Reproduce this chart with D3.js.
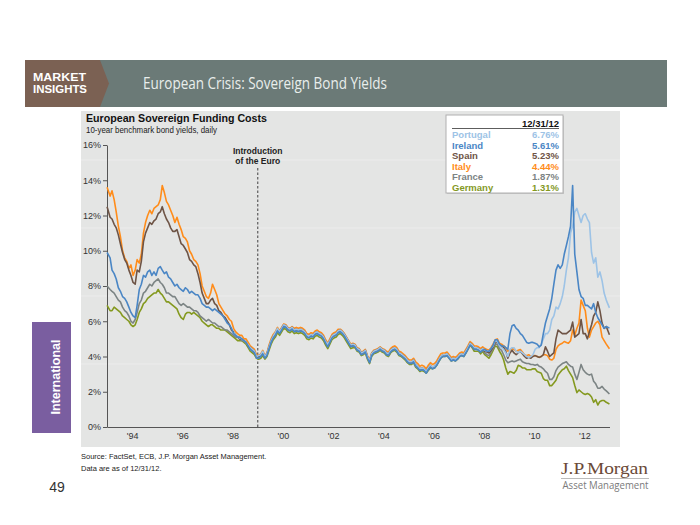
<!DOCTYPE html>
<html><head><meta charset="utf-8">
<script src="https://cdn.jsdelivr.net/npm/d3@7"></script>
<style>
body{margin:0;background:#fff}
svg{display:block;font-family:"Liberation Sans",Arial,sans-serif}
</style>
</head><body><svg id="c" width="700" height="525"></svg>
<script>
// ---------------- DATA ----------------
const countries = ["Portugal","Ireland","Spain","Italy","France","Germany"];
const lastValues = ["6.76%","5.61%","5.23%","4.44%","1.87%","1.31%"];
const lastDateLabel = "12/31/12";
const yTicks = [0,2,4,6,8,10,12,14,16];
const xTickYears = [1994,1996,1998,2000,2002,2004,2006,2008,2010,2012];
const xTickLabels = ["'94","'96","'98","'00","'02","'04","'06","'08","'10","'12"];
const euroDate = "1999-01-01";
const startMonth = "1993-01";   // monthly observations, Jan 1993 .. Dec 2012

const portugal = [
 null,null,null,null,null,null,null,null,null,null,null,null,
 null,null,null,null,null,null,null,null,null,null,null,null,
 null,null,null,null,null,null,null,null,null,null,null,null,
 null,null,null,null,null,null,null,null,null,null,null,null,
 null,null,null,null,null,null,null,null,null,null,null,null,
 5.4,5.2,5.1,5.05,5.0,4.9,4.8,4.65,4.5,4.4,4.3,4.0,
 4.05,4.1,4.3,4.0,4.15,4.55,4.9,5.15,5.35,5.6,5.4,5.6,
 5.8,5.75,5.6,5.55,5.65,5.5,5.55,5.5,5.55,5.5,5.4,5.2,
 5.15,5.25,5.2,5.35,5.4,5.3,5.25,5.1,4.85,4.7,4.9,5.15,
 5.25,5.3,5.45,5.5,5.4,5.25,5.05,4.85,4.65,4.7,4.65,4.45,
 4.4,4.2,4.25,4.35,4.0,3.75,4.15,4.3,4.35,4.4,4.5,4.4,
 4.35,4.2,4.15,4.35,4.45,4.5,4.4,4.2,4.15,4.05,3.95,3.8,
 3.7,3.7,3.8,3.55,3.45,3.3,3.35,3.3,3.15,3.35,3.5,3.4,
 3.45,3.6,3.8,4.0,4.1,4.1,4.15,4.0,3.85,3.9,3.85,3.95,
 4.1,4.15,4.1,4.3,4.5,4.75,4.65,4.5,4.5,4.45,4.35,4.45,
 4.35,4.3,4.3,4.45,4.6,4.9,4.85,4.6,4.5,4.4,4.2,4.0,
 4.4,4.5,4.5,4.3,4.2,4.3,4.2,4.1,4.0,3.95,4.0,4.1,
 4.4,4.5,4.5,4.7,5.0,5.3,5.3,5.5,6.1,6.3,6.8,6.7,
 7.0,7.4,8.0,8.9,9.6,11.0,11.4,12.2,12.4,12.0,11.6,12.0,
 12.1,11.8,11.6,9.9,9.3,9.6,8.5,8.8,8.3,7.6,7.2,6.76
];
const ireland = [
 9.9,9.6,8.9,8.7,8.4,7.9,7.7,7.4,7.3,7.1,6.8,6.5,
 6.3,6.2,6.9,7.8,8.1,8.6,8.5,8.8,8.9,8.6,8.8,8.6,
 9.0,9.1,8.9,8.7,8.8,8.5,8.4,8.2,8.0,8.1,7.9,7.8,
 7.7,7.9,7.8,7.6,7.7,7.6,7.5,7.5,7.3,7.0,6.9,6.8,
 6.8,6.7,6.6,6.7,6.6,6.5,6.4,6.3,6.1,5.9,5.8,5.6,
 5.3,5.2,5.1,5.1,5.0,4.9,4.8,4.6,4.4,4.3,4.2,3.9,
 3.9,4.0,4.15,3.9,4.05,4.45,4.8,5.05,5.2,5.45,5.3,5.5,
 5.7,5.65,5.5,5.45,5.55,5.4,5.45,5.4,5.45,5.4,5.3,5.1,
 5.05,5.15,5.1,5.25,5.3,5.2,5.15,5.0,4.75,4.55,4.8,5.05,
 5.15,5.2,5.35,5.4,5.3,5.15,4.95,4.75,4.55,4.6,4.55,4.35,
 4.3,4.1,4.15,4.25,3.9,3.65,4.05,4.2,4.25,4.3,4.4,4.3,
 4.25,4.1,4.05,4.25,4.35,4.4,4.3,4.1,4.05,3.95,3.85,3.7,
 3.6,3.6,3.7,3.45,3.35,3.2,3.25,3.2,3.05,3.25,3.4,3.3,
 3.35,3.5,3.7,3.9,4.0,4.0,4.05,3.9,3.75,3.8,3.75,3.85,
 4.0,4.05,4.0,4.2,4.4,4.65,4.55,4.4,4.4,4.35,4.25,4.35,
 4.4,4.3,4.3,4.45,4.65,4.95,4.95,4.7,4.6,4.6,4.5,4.4,
 5.3,5.75,5.8,5.6,5.5,5.3,5.2,5.0,4.8,4.75,4.8,4.8,
 4.75,4.7,4.55,4.65,5.3,5.9,6.3,6.7,7.3,8.1,8.9,9.2,
 9.0,9.2,9.8,10.3,10.8,11.4,13.7,9.8,8.8,7.8,7.4,7.3,
 6.9,6.9,6.8,6.7,7.0,6.5,6.2,6.0,5.8,5.6,5.7,5.61
];
const spain = [
 12.5,11.9,11.8,11.5,11.3,10.9,10.4,9.9,9.5,9.3,8.9,8.6,
 8.2,8.1,8.9,8.8,9.4,10.5,11.0,11.3,11.6,11.5,11.7,11.8,
 12.1,12.2,12.5,12.1,11.8,11.6,11.3,11.1,11.1,11.2,10.8,10.4,
 10.3,10.1,9.9,9.5,9.4,9.2,9.1,8.7,8.2,7.6,7.3,7.0,
 7.0,7.2,7.3,7.0,6.9,6.6,6.5,6.3,6.2,6.0,5.8,5.5,
 5.4,5.2,5.1,5.0,5.0,4.9,4.8,4.6,4.5,4.4,4.3,4.0,
 4.0,4.1,4.25,4.0,4.15,4.55,4.9,5.15,5.3,5.55,5.4,5.6,
 5.8,5.75,5.6,5.55,5.65,5.5,5.55,5.5,5.55,5.5,5.4,5.2,
 5.15,5.25,5.2,5.35,5.4,5.3,5.25,5.1,4.85,4.65,4.9,5.15,
 5.25,5.3,5.45,5.5,5.4,5.25,5.05,4.85,4.6,4.7,4.65,4.45,
 4.4,4.2,4.25,4.35,4.0,3.75,4.15,4.3,4.35,4.4,4.5,4.4,
 4.35,4.2,4.15,4.35,4.45,4.5,4.4,4.2,4.15,4.05,3.95,3.8,
 3.7,3.7,3.8,3.55,3.45,3.3,3.35,3.3,3.15,3.35,3.5,3.4,
 3.45,3.6,3.8,4.0,4.1,4.1,4.15,4.0,3.85,3.9,3.85,3.95,
 4.1,4.15,4.1,4.3,4.5,4.75,4.65,4.5,4.5,4.45,4.35,4.45,
 4.3,4.25,4.2,4.35,4.55,4.8,4.85,4.6,4.6,4.5,4.3,3.9,
 4.2,4.35,4.2,4.1,4.2,4.3,4.15,4.0,3.9,3.95,3.9,4.0,
 4.05,4.0,3.95,4.0,4.1,4.55,4.3,4.0,4.1,4.2,5.0,5.5,
 5.4,5.3,5.3,5.3,5.4,5.5,5.95,5.1,5.2,5.3,6.1,5.3,
 5.3,5.0,5.4,5.8,6.3,6.5,7.1,6.6,5.9,5.6,5.7,5.23
];
const italy = [
 13.6,13.1,13.4,12.9,12.2,11.4,10.8,10.0,9.6,9.4,9.0,9.2,
 8.6,8.9,9.5,9.3,9.8,11.0,11.6,12.0,12.3,12.1,12.4,12.5,
 12.6,12.9,13.7,13.3,12.8,12.6,12.3,12.0,11.6,11.9,11.5,11.2,
 10.8,10.7,10.5,10.0,9.8,9.5,9.4,9.2,8.7,8.0,7.7,7.4,
 7.3,7.6,8.1,7.8,7.5,7.0,6.8,6.6,6.4,6.3,6.1,6.0,
 5.6,5.4,5.3,5.2,5.2,5.0,5.0,4.8,4.6,4.5,4.4,4.1,
 4.05,4.15,4.35,4.05,4.2,4.65,5.0,5.25,5.4,5.65,5.45,5.65,
 5.85,5.8,5.65,5.6,5.7,5.6,5.65,5.6,5.65,5.6,5.5,5.3,
 5.25,5.35,5.3,5.45,5.5,5.4,5.35,5.2,4.95,4.75,5.0,5.25,
 5.35,5.4,5.55,5.55,5.45,5.3,5.1,4.9,4.7,4.75,4.7,4.5,
 4.45,4.25,4.3,4.4,4.05,3.8,4.2,4.35,4.4,4.45,4.55,4.45,
 4.4,4.3,4.25,4.45,4.55,4.6,4.5,4.3,4.25,4.15,4.05,3.9,
 3.8,3.8,3.9,3.7,3.6,3.45,3.5,3.45,3.3,3.5,3.65,3.55,
 3.6,3.75,3.95,4.15,4.2,4.2,4.25,4.1,3.95,4.0,3.95,4.05,
 4.2,4.25,4.2,4.4,4.6,4.85,4.75,4.6,4.6,4.55,4.45,4.55,
 4.45,4.4,4.35,4.5,4.7,4.95,5.0,4.75,4.7,4.6,4.5,4.3,
 4.35,4.45,4.4,4.3,4.35,4.4,4.25,4.1,4.05,4.1,4.0,4.05,
 4.05,4.0,3.95,4.0,4.1,4.1,4.05,3.85,3.8,3.9,4.4,4.6,
 4.7,4.75,4.85,4.8,4.75,4.9,5.5,5.2,5.6,5.9,7.2,6.9,
 6.6,5.6,5.1,5.5,5.7,5.9,6.0,5.8,5.1,4.9,4.7,4.44
];
const france = [
 8.0,7.8,7.7,7.6,7.4,7.2,7.1,6.8,6.6,6.5,6.3,6.0,
 5.9,6.1,6.5,7.0,7.2,7.6,7.7,7.9,8.1,8.0,8.2,8.3,
 8.4,8.2,8.1,7.9,7.6,7.6,7.5,7.4,7.4,7.2,7.0,6.9,
 7.0,6.9,6.8,6.8,6.7,6.6,6.6,6.5,6.3,6.2,6.1,6.0,
 6.1,6.0,5.9,5.9,5.8,5.7,5.7,5.6,5.5,5.5,5.4,5.3,
 5.2,5.1,5.1,5.0,4.9,4.9,4.8,4.6,4.4,4.4,4.2,4.0,
 3.95,4.05,4.2,3.95,4.1,4.5,4.85,5.1,5.25,5.5,5.35,5.55,
 5.75,5.7,5.55,5.5,5.6,5.45,5.5,5.45,5.5,5.45,5.35,5.15,
 5.1,5.2,5.15,5.3,5.35,5.25,5.2,5.05,4.8,4.6,4.85,5.1,
 5.2,5.25,5.4,5.45,5.35,5.2,5.0,4.8,4.6,4.65,4.6,4.4,
 4.35,4.15,4.2,4.3,3.95,3.7,4.1,4.25,4.3,4.35,4.45,4.35,
 4.3,4.15,4.1,4.3,4.4,4.45,4.35,4.15,4.1,4.0,3.9,3.75,
 3.65,3.65,3.75,3.5,3.4,3.25,3.3,3.25,3.1,3.3,3.45,3.35,
 3.4,3.55,3.75,3.95,4.05,4.05,4.1,3.95,3.8,3.85,3.8,3.9,
 4.05,4.1,4.05,4.25,4.45,4.7,4.6,4.45,4.45,4.4,4.3,4.4,
 4.2,4.1,4.05,4.25,4.45,4.7,4.7,4.45,4.35,4.1,3.8,3.65,
 3.7,3.75,3.7,3.75,3.8,3.85,3.7,3.65,3.6,3.6,3.55,3.55,
 3.5,3.55,3.45,3.4,3.3,3.15,3.05,2.7,2.7,2.85,3.2,3.4,
 3.5,3.6,3.65,3.7,3.55,3.45,3.4,3.0,2.7,3.1,3.55,3.25,
 3.1,3.0,2.95,3.0,2.6,2.45,2.2,2.2,2.3,2.15,2.05,1.87
];
const germany = [
 6.9,6.6,6.6,6.8,6.7,6.6,6.5,6.3,6.2,6.1,6.0,5.8,
 5.7,5.8,6.1,6.5,6.7,7.0,7.1,7.3,7.4,7.5,7.6,7.6,
 7.8,7.6,7.5,7.3,7.1,7.1,7.0,6.9,6.8,6.7,6.4,6.2,
 6.1,6.4,6.5,6.5,6.4,6.5,6.4,6.3,6.2,6.0,5.9,5.8,
 5.7,5.8,5.8,5.7,5.6,5.6,5.5,5.5,5.5,5.4,5.3,5.2,
 5.1,5.0,4.9,4.9,4.9,4.8,4.7,4.5,4.3,4.2,4.1,3.9,
 3.85,3.9,4.05,3.85,4.0,4.35,4.7,4.95,5.1,5.35,5.2,5.4,
 5.6,5.55,5.4,5.35,5.45,5.3,5.35,5.3,5.35,5.3,5.2,5.0,
 4.95,5.05,5.0,5.15,5.2,5.1,5.05,4.9,4.65,4.45,4.7,4.95,
 5.05,5.1,5.25,5.3,5.2,5.05,4.85,4.65,4.45,4.5,4.5,4.3,
 4.25,4.05,4.1,4.2,3.85,3.6,4.0,4.15,4.2,4.25,4.35,4.25,
 4.2,4.05,4.0,4.2,4.3,4.35,4.25,4.05,4.0,3.9,3.8,3.65,
 3.55,3.55,3.65,3.4,3.3,3.15,3.2,3.15,3.05,3.2,3.35,3.3,
 3.35,3.5,3.7,3.9,4.0,4.0,4.05,3.9,3.75,3.8,3.75,3.85,
 4.0,4.05,4.0,4.2,4.4,4.65,4.5,4.3,4.3,4.3,4.15,4.3,
 4.1,4.0,3.9,4.1,4.35,4.6,4.55,4.3,4.1,3.8,3.35,3.0,
 3.15,3.1,3.05,3.2,3.5,3.45,3.35,3.35,3.25,3.25,3.25,3.3,
 3.3,3.15,3.1,3.05,2.75,2.65,2.65,2.35,2.35,2.5,2.65,2.95,
 3.1,3.25,3.3,3.45,3.2,3.0,2.8,2.35,1.95,2.1,2.0,1.9,
 1.85,1.9,1.85,1.7,1.4,1.55,1.25,1.45,1.5,1.5,1.4,1.31
];

const seriesValues = [portugal, ireland, spain, italy, france, germany];
const seriesColors = ["#9dc3e6","#4a86c5","#6e5446","#ff8c1a","#7c8484","#84991f"];
const drawOrder = [5,4,3,2,0,1];

// ---------------- CHART ----------------
const svg = d3.select("#c");
const SANS = "'Liberation Sans',Arial,sans-serif";
const txt = (sel) => sel.style("font-family", SANS);

// header band
svg.append("rect").attr("x",25).attr("y",60).attr("width",642).attr("height",47).attr("fill","#6b7a77");
svg.append("polygon").attr("points","25,60 100,60 109,83.5 100,107 25,107").attr("fill","#7b6153");
svg.append("text").attr("x",33).attr("y",81).attr("fill","#fff").attr("font-size",10).attr("font-weight","bold")
  .attr("textLength",53).attr("lengthAdjust","spacingAndGlyphs").style("font-family",SANS).text("MARKET");
svg.append("text").attr("x",33).attr("y",93).attr("fill","#fff").attr("font-size",10).attr("font-weight","bold")
  .attr("textLength",54).attr("lengthAdjust","spacingAndGlyphs").style("font-family",SANS).text("INSIGHTS");
svg.append("text").attr("x",143).attr("y",89).attr("fill","#e9eeec").attr("font-size",17)
  .style("font-family","'Open Sans',sans-serif").attr("textLength",244).attr("lengthAdjust","spacingAndGlyphs")
  .text("European Crisis: Sovereign Bond Yields");

// panel
svg.append("rect").attr("x",81).attr("y",111).attr("width",539).attr("height",336).attr("fill","#e4e5e4");
[160,228,296,364].forEach(yy=>{
  svg.append("line").attr("x1",81).attr("x2",620).attr("y1",yy).attr("y2",yy).attr("stroke","#ececec").attr("stroke-width",1);
});

// left tab
svg.append("rect").attr("x",32).attr("y",322).attr("width",39).attr("height",111).attr("fill","#7a5ea0");
svg.append("text").attr("transform","translate(60,377) rotate(-90)").attr("text-anchor","middle")
  .attr("fill","#fff").attr("font-size",12.5).attr("font-weight","bold").style("font-family",SANS).text("International");

// page number
svg.append("text").attr("x",57).attr("y",492).attr("text-anchor","middle").attr("font-size",14).attr("fill","#333").style("font-family",SANS).text("49");

// titles
svg.append("text").attr("x",86).attr("y",122).attr("font-size",11.5).attr("font-weight","bold").attr("fill","#111")
  .attr("textLength",181).attr("lengthAdjust","spacingAndGlyphs").style("font-family",SANS).text("European Sovereign Funding Costs");
svg.append("text").attr("x",86).attr("y",133).attr("font-size",9.5).attr("fill","#222")
  .attr("textLength",131).attr("lengthAdjust","spacingAndGlyphs").style("font-family",SANS).text("10-year benchmark bond yields, daily");

// scales
const parseM = d3.timeParse("%Y-%m");
const m0 = parseM(startMonth);
const dates = d3.range(240).map(i => {
  if (i === 0) return new Date(m0.getFullYear(), 0, 2);
  if (i === 239) return new Date(2012, 11, 31);
  return new Date(m0.getFullYear(), i, 15);
});
const x = d3.scaleTime().domain([new Date(1993,0,1), new Date(2013,0,1)]).range([107, 609.5]);
const y = d3.scaleLinear().domain([0,16]).range([427,145]);

// axes
const yAxis = svg.append("g").attr("transform","translate(107,0)")
  .call(d3.axisLeft(y).tickValues(yTicks).tickFormat(d=>d+"%").tickSize(4).tickSizeOuter(0).tickPadding(2));
yAxis.select(".domain").attr("stroke","#555");
yAxis.selectAll(".tick line").attr("stroke","#555");
yAxis.selectAll(".tick text").attr("font-size",9).attr("fill","#333").style("font-family",SANS);

const xAxis = svg.append("g").attr("transform","translate(0,427)")
  .call(d3.axisBottom(x).tickValues(xTickYears.map(yv=>new Date(yv,0,1)))
     .tickFormat((d,i)=>xTickLabels[i]).tickSize(0).tickSizeOuter(0).tickPadding(6));
xAxis.select(".domain").attr("stroke","#555");
xAxis.selectAll(".tick text").attr("font-size",9).attr("fill","#333").style("font-family",SANS);

// euro line
const ex = x(d3.timeParse("%Y-%m-%d")(euroDate));
svg.append("line").attr("x1",ex).attr("x2",ex).attr("y1",168).attr("y2",427)
  .attr("stroke","#666").attr("stroke-width",1.3).attr("stroke-dasharray","2.5,2");
svg.append("text").attr("x",ex).attr("y",154).attr("text-anchor","middle").attr("font-size",8.5).attr("font-weight","bold").attr("fill","#222").style("font-family",SANS).text("Introduction");
svg.append("text").attr("x",ex).attr("y",164).attr("text-anchor","middle").attr("font-size",8.5).attr("font-weight","bold").attr("fill","#222").style("font-family",SANS).text("of the Euro");

// lines
const line = d3.line().defined(d=>d[1]!=null).x(d=>x(d[0])).y(d=>y(d[1])).curve(d3.curveLinear);
drawOrder.forEach(k=>{
  const pts = seriesValues[k].map((v,i)=>[dates[i], v]);
  svg.append("path").datum(pts).attr("d",line).attr("fill","none")
    .attr("stroke",seriesColors[k]).attr("stroke-width",1.6).attr("stroke-linejoin","round");
});

// legend box
const lg = svg.append("g");
lg.append("rect").attr("x",447).attr("y",116).attr("width",117).attr("height",78).attr("fill","#c9c9c9");
lg.append("rect").attr("x",446).attr("y",115).attr("width",117).attr("height",78).attr("fill","#fff").attr("stroke","#b0b0b0").attr("stroke-width",1);
lg.append("text").attr("x",559).attr("y",127).attr("text-anchor","end").attr("font-size",9.5).attr("font-weight","bold").attr("fill","#111").style("font-family",SANS).text(lastDateLabel);
lg.append("line").attr("x1",452).attr("x2",559).attr("y1",128.5).attr("y2",128.5).attr("stroke","#333").attr("stroke-width",0.8);
countries.forEach((c,i)=>{
  const yy = 138 + i*10.6;
  lg.append("text").attr("x",452).attr("y",yy).attr("font-size",9.5).attr("font-weight","bold").attr("fill",seriesColors[i]).style("font-family",SANS).text(c);
  lg.append("text").attr("x",559).attr("y",yy).attr("text-anchor","end").attr("font-size",9.5).attr("font-weight","bold").attr("fill",seriesColors[i]).style("font-family",SANS).text(lastValues[i]);
});

// source
svg.append("text").attr("x",81).attr("y",459).attr("font-size",7.5).attr("fill","#222").style("font-family",SANS).text("Source: FactSet, ECB, J.P. Morgan Asset Management.");
svg.append("text").attr("x",81).attr("y",471).attr("font-size",7.5).attr("fill","#222").style("font-family",SANS).text("Data are as of 12/31/12.");

// logo
svg.append("text").attr("x",561).attr("y",474).attr("font-size",17).style("font-family","'Liberation Serif','DejaVu Serif',serif")
  .attr("fill","#6b4a38").attr("textLength",87).attr("lengthAdjust","spacingAndGlyphs").text("J.P.Morgan");
svg.append("line").attr("x1",561).attr("x2",649).attr("y1",478.5).attr("y2",478.5).attr("stroke","#aaa").attr("stroke-width",0.8);
svg.append("text").attr("x",562.5).attr("y",489).attr("font-size",10).attr("fill","#7a7a7a").style("font-family","'Open Sans',sans-serif")
  .attr("textLength",86).attr("lengthAdjust","spacingAndGlyphs").text("Asset Management");
</script>
</body></html>
